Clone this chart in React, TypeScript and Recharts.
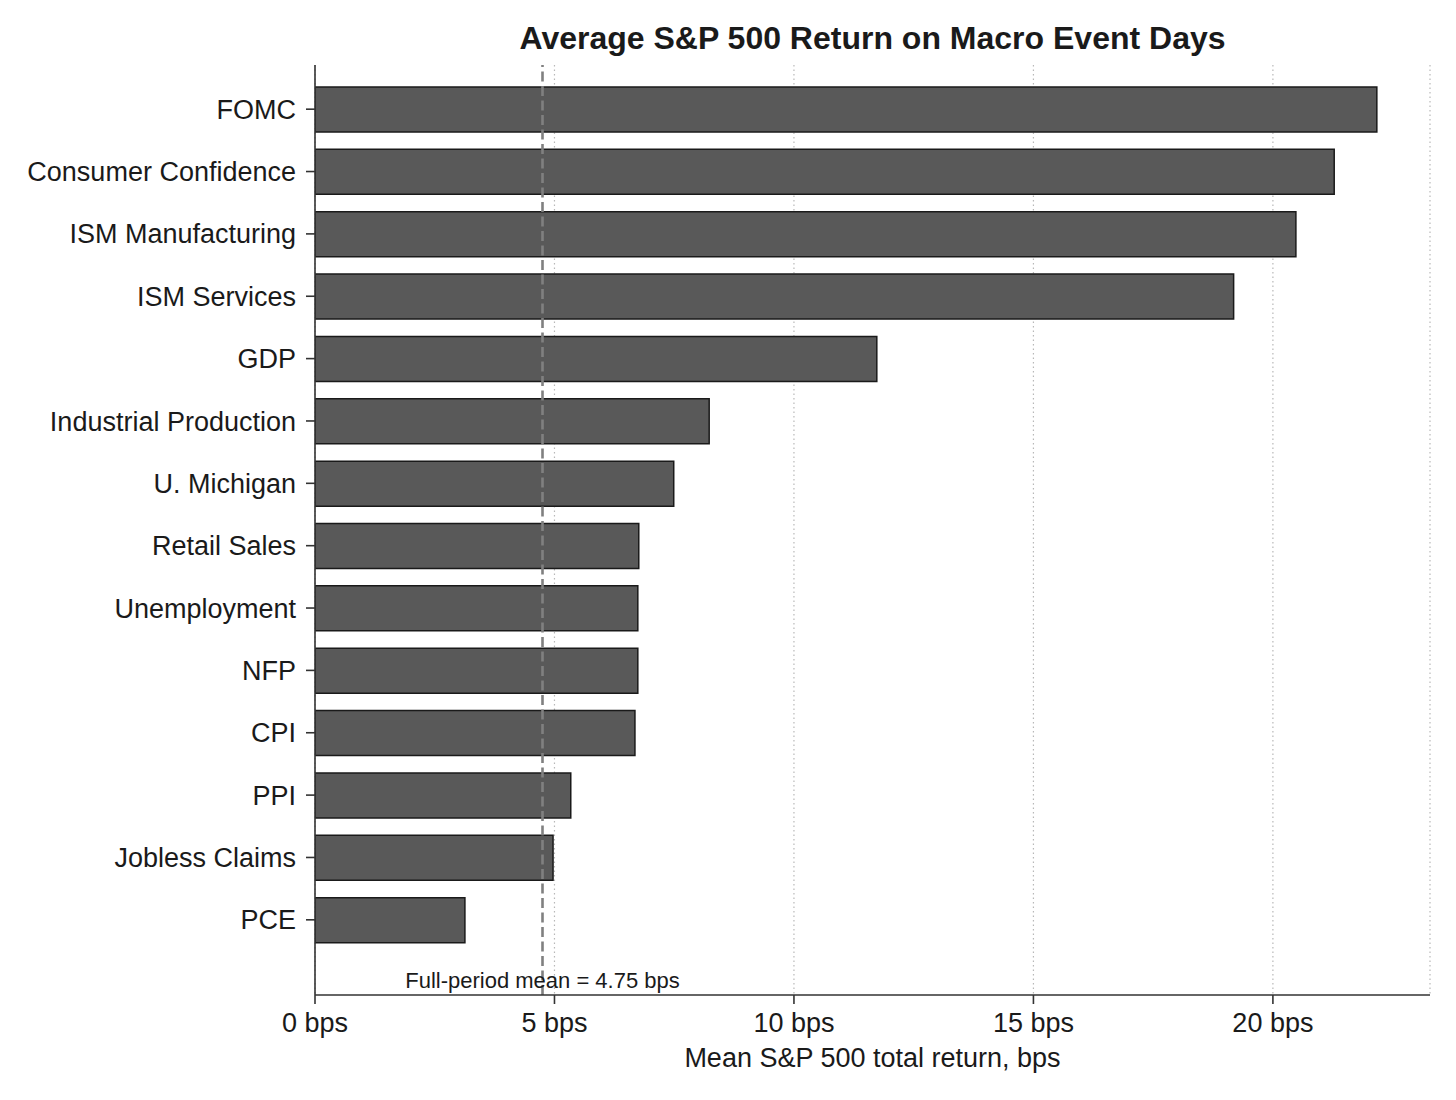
import React from 'react';
import { BarChart, Bar, XAxis, YAxis, CartesianGrid, ReferenceLine } from 'recharts';

const EVENTS = [
  'FOMC',
  'Consumer Confidence',
  'ISM Manufacturing',
  'ISM Services',
  'GDP',
  'Industrial Production',
  'U. Michigan',
  'Retail Sales',
  'Unemployment',
  'NFP',
  'CPI',
  'PPI',
  'Jobless Claims',
  'PCE',
];

const MEAN_RETURNS = [22.17, 21.28, 20.48, 19.18, 11.73, 8.23, 7.49, 6.76, 6.74, 6.74, 6.68, 5.34, 4.97, 3.13];

const X_TICKS = [0, 5, 10, 15, 20];
const FULL_PERIOD_MEAN = 4.75;

const FONT = '"Liberation Sans", Arial, Helvetica, sans-serif';
const TEXT_COLOR = '#1a1a1a';

const data = EVENTS.map((name, i) => ({ name, value: MEAN_RETURNS[i] }));

const AxisTitle = ({ viewBox }: any) => (
  <text
    x={viewBox.x + viewBox.width / 2}
    y={1067}
    textAnchor="middle"
    fontFamily={FONT}
    fontSize={27}
    fill={TEXT_COLOR}
  >
    Mean S&amp;P 500 total return, bps
  </text>
);

const MeanLabel = ({ viewBox }: any) => (
  <text
    x={viewBox.x}
    y={988}
    textAnchor="middle"
    fontFamily={FONT}
    fontSize={22}
    fill={TEXT_COLOR}
  >
    {`Full-period mean = ${FULL_PERIOD_MEAN} bps`}
  </text>
);

export default function App() {
  return (
    <div style={{ position: 'absolute', left: 0, top: 0, width: 1456, height: 1100, background: '#fff', fontFamily: FONT }}>
      <div
        style={{
          position: 'absolute',
          left: 315,
          width: 1115,
          top: 19,
          textAlign: 'center',
          fontSize: 32,
          fontWeight: 700,
          color: TEXT_COLOR,
          lineHeight: '38px',
        }}
      >
        Average S&amp;P 500 Return on Macro Event Days
      </div>
      <BarChart
        width={1456}
        height={1100}
        data={data}
        layout="vertical"
        margin={{ top: 65, right: 26, bottom: 0, left: 0 }}
      >
        <CartesianGrid horizontal={false} stroke="#b8b8b8" strokeDasharray="1.5 3" strokeWidth={1.2} />
        <XAxis
          type="number"
          domain={[0, 23.28]}
          ticks={X_TICKS}
          allowDataOverflow
          tickFormatter={(v: number) => `${v} bps`}
          tick={{ fill: TEXT_COLOR, fontSize: 27, fontFamily: FONT }}
          tickSize={9}
          tickMargin={9}
          height={105}
          axisLine={{ stroke: '#333', strokeWidth: 1.6 }}
          tickLine={{ stroke: '#333', strokeWidth: 1.6 }}
          label={<AxisTitle />}
        />
        <YAxis
          type="category"
          dataKey="name"
          width={315}
          padding={{ top: 13, bottom: 44 }}
          tick={{ fill: TEXT_COLOR, fontSize: 27, fontFamily: FONT }}
          tickSize={9}
          tickMargin={10}
          interval={0}
          axisLine={{ stroke: '#333', strokeWidth: 1.6 }}
          tickLine={{ stroke: '#333', strokeWidth: 1.6 }}
        />
        <Bar
          dataKey="value"
          fill="#595959"
          stroke="#1a1a1a"
          strokeWidth={1.5}
          barSize={45}
          isAnimationActive={false}
        />
        <ReferenceLine
          x={FULL_PERIOD_MEAN}
          stroke="#808080"
          strokeWidth={2.6}
          strokeDasharray="10 4.5"
          label={<MeanLabel />}
        />
      </BarChart>
    </div>
  );
}
